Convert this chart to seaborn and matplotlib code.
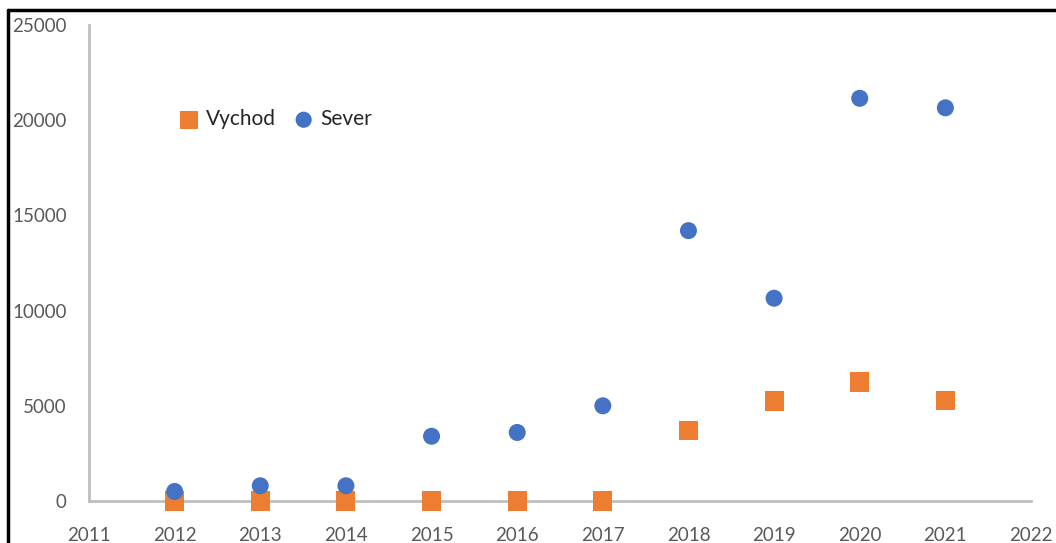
import matplotlib
matplotlib.use("Agg")
import matplotlib.pyplot as plt
import seaborn as sns
from matplotlib.lines import Line2D

years = [2012, 2013, 2014, 2015, 2016, 2017, 2018, 2019, 2020, 2021]
vychod = [0, 0, 0, 0, 0, 0, 3700, 5250, 6250, 5300]
sever = [500, 800, 800, 3400, 3600, 5000, 14200, 10650, 21150, 20650]
x_ticks = list(range(2011, 2023))
y_ticks = [0, 5000, 10000, 15000, 20000, 25000]

sns.set_style("white")
plt.rcParams['font.family'] = ['Lato', 'DejaVu Sans']

fig = plt.figure(figsize=(10.56, 5.43), dpi=100)
ax = fig.add_axes([89 / 1056, 1 - 501 / 543, (1031 - 89) / 1056, (501 - 25) / 543])

sns.scatterplot(x=years, y=vychod, ax=ax, marker='s', s=190, color='#ED7D31',
                edgecolor='none', label='Vychod', zorder=3, clip_on=False)
sns.scatterplot(x=years, y=sever, ax=ax, marker='o', s=150, color='#4472C4',
                edgecolor='none', label='Sever', zorder=4, clip_on=False)

ax.set_xlim(2011, 2022)
ax.set_ylim(0, 25000)
ax.set_xticks(x_ticks)
ax.set_yticks(y_ticks)
ax.tick_params(axis='x', length=0, pad=19, labelsize=13.5, colors='#595959')
ax.tick_params(axis='y', length=0, pad=16, labelsize=13.5, colors='#595959')

for s in ['top', 'right']:
    ax.spines[s].set_visible(False)
for s in ['left', 'bottom']:
    ax.spines[s].set_color('#BFBFBF')
    ax.spines[s].set_linewidth(2)
    ax.spines[s].set_zorder(1)
ax.grid(False)

leg = ax.legend(loc='upper left', bbox_to_anchor=(0.085, 0.845), ncol=2, frameon=False,
                fontsize=15, handlelength=0.9, handletextpad=0.35, columnspacing=0.9,
                markerscale=0.95, borderpad=0.0)
for t in leg.get_texts():
    t.set_color('#262626')

# border of the cropped picture
fig.add_artist(Line2D([8 / 1056, 8 / 1056], [0, 1 - 10 / 543], transform=fig.transFigure,
                      color='black', linewidth=2.5))
fig.add_artist(Line2D([8 / 1056, 1], [1 - 10 / 543, 1 - 10 / 543], transform=fig.transFigure,
                      color='black', linewidth=2.5))

fig.savefig('out.png', dpi=100)
